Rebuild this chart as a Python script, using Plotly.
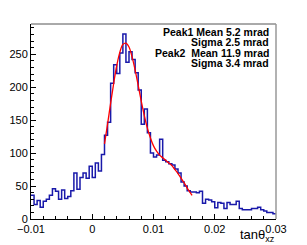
import numpy as np
import plotly.graph_objects as go

# ---- data ----
x_low, x_high, n_bins = -0.01, 0.03, 80
counts = [36, 22, 28, 18, 27, 30, 36, 46, 42, 30, 44, 31, 34, 43,
          70, 45, 63, 70, 62, 80, 63, 85, 73, 98, 127,
          147, 206, 234, 221, 252, 281, 238, 254, 242, 222,
          196, 144, 167, 131, 100, 94, 97, 121, 89, 87, 84,
          82, 76, 70, 56, 50, 43, 41, 41, 40, 42,
          24, 30, 29, 26, 17, 25, 24, 16, 25, 22, 22, 27, 16,
          14, 14, 14, 16, 16, 18, 14, 12, 10, 10, 8]

fit_x_mrad = [2.0, 2.5, 3.0, 3.5, 4.0, 4.5, 5.0, 5.5, 6.0, 6.5, 7.0, 7.5, 8.0,
              8.5, 9.0, 9.5, 10.0, 10.5, 11.0, 11.5, 12.0, 12.5, 13.0, 13.5,
              14.0, 14.5, 15.0, 15.5, 16.0, 16.3]
fit_y = [114, 144, 176, 206, 233, 253, 265, 267, 261, 246, 226, 203, 179,
         157, 138, 123, 111, 103, 97, 93, 89, 85, 81, 75,
         69, 62, 55, 47, 40, 36]

legend_lines = ["Peak1 Mean 5.2 mrad", "Sigma 2.5 mrad",
                "Peak2  Mean 11.9 mrad", "Sigma 3.4 mrad"]
x_title = "tanθ<sub>xz</sub>"

# ---- figure ----
edges = np.linspace(x_low, x_high, n_bins + 1)
hist_y = counts + [counts[-1]]
fit_x = [v / 1000.0 for v in fit_x_mrad]

fig = go.Figure()
fig.add_trace(go.Scatter(x=edges, y=hist_y, mode="lines",
                         line=dict(shape="hv", color="rgb(25,25,170)", width=1.5),
                         hoverinfo="skip", showlegend=False))
fig.add_trace(go.Scatter(x=fit_x, y=fit_y, mode="lines",
                         line=dict(shape="spline", color="#ff0000", width=1.3),
                         hoverinfo="skip", showlegend=False))

L, R, T, B = 31, 31, 24, 26
W, H = 307, 245
pw, ph = W - L - R, H - T - B

font = dict(family="Liberation Sans, Arial, sans-serif", size=11, color="black")

fig.update_layout(
    width=W, height=H,
    margin=dict(l=L, r=R, t=T, b=B, pad=0, autoexpand=False),
    paper_bgcolor="white", plot_bgcolor="white",
    font=font,
    xaxis=dict(range=[x_low, x_high], tickvals=[-0.01, 0, 0.01, 0.02, 0.03],
               ticktext=["−0.01", "0", "0.01", "0.02", "0.03"],
               ticks="inside", ticklen=5, tickcolor="black", tickwidth=1,
               minor=dict(dtick=0.002, ticks="inside", ticklen=3, tickcolor="black"),
               showline=True, linecolor="black", linewidth=1, automargin=False,
               showgrid=False, zeroline=False, tickfont=font),
    yaxis=dict(range=[0, 296], tickvals=[0, 50, 100, 150, 200, 250],
               ticks="inside", ticklen=5, tickcolor="black", tickwidth=1,
               minor=dict(dtick=10, ticks="inside", ticklen=3, tickcolor="black"),
               showline=True, linecolor="black", linewidth=1, automargin=False,
               showgrid=False, zeroline=False, tickfont=font),
)

# frame top/right
fig.add_shape(type="line", xref="paper", yref="paper", x0=0, x1=1, y0=1, y1=1,
              line=dict(color="#555555", width=1))
fig.add_shape(type="line", xref="paper", yref="paper", x0=1, x1=1, y0=0, y1=1,
              line=dict(color="#999999", width=1.5))

line_px = [32, 42, 53, 63]
for txt, ypx in zip(legend_lines, line_px):
    fig.add_annotation(text="<b>" + txt + "</b>", xref="paper", yref="paper",
                       x=(271 - L) / pw, y=(H - B - ypx) / ph,
                       xanchor="right", yanchor="middle", showarrow=False,
                       font=dict(family="Liberation Sans, Arial, sans-serif",
                                 size=10.5, color="black"))

fig.add_annotation(text=x_title, xref="paper", yref="paper",
                   x=1.005, y=(H - B - 235) / ph, xanchor="right", yanchor="middle",
                   showarrow=False,
                   font=dict(family="Liberation Sans, Arial, sans-serif", size=13, color="black"))

fig.write_html("out.html", config={"displayModeBar": False},
               post_script="document.body.style.margin='0';document.body.style.overflow='hidden';")
